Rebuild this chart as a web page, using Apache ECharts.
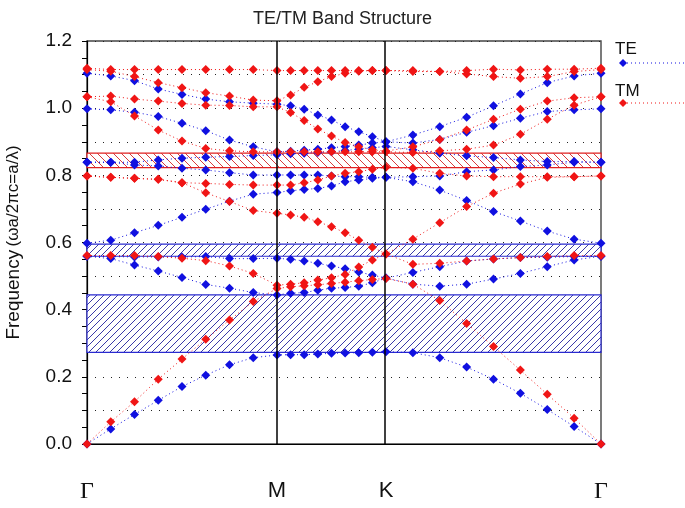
<!DOCTYPE html>
<html>
<head>
<meta charset="utf-8">
<script src="https://cdn.jsdelivr.net/npm/echarts@6/dist/echarts.min.js"></script>
<style>
html,body{margin:0;padding:0;background:#fff;}
#chart{width:685px;height:508px;}
</style>
</head>
<body>
<div id="chart"></div>
<script>
// k-path positions (normalised path length), 25 points: Γ(0) M(8) K(16) Γ(24)
var kx = [0, 0.0462, 0.0924, 0.1386, 0.1848, 0.2310, 0.2772, 0.3234, 0.3696,
          0.3961, 0.4226, 0.4491, 0.4757, 0.5022, 0.5287, 0.5552, 0.5817,
          0.6340, 0.6863, 0.7386, 0.7909, 0.8431, 0.8954, 0.9477, 1.0];
var kLabels = ['\u0393', 'M', 'K', '\u0393'];
var kLabelPos = [0, 0.3696, 0.5817, 1.0];

// TE bands (blue)
var te1 = [0, 0.045, 0.088, 0.130, 0.171, 0.205, 0.236, 0.257, 0.265, 0.266, 0.266, 0.268, 0.270, 0.271, 0.272, 0.273, 0.275, 0.272, 0.257, 0.229, 0.193, 0.151, 0.103, 0.052, 0];
var te2 = [0.559, 0.552, 0.533, 0.515, 0.496, 0.475, 0.464, 0.451, 0.444, 0.449, 0.451, 0.458, 0.464, 0.466, 0.470, 0.480, 0.494, 0.476, 0.470, 0.476, 0.491, 0.508, 0.528, 0.548, 0.559];
var te3 = [0.559, 0.558, 0.557, 0.557, 0.557, 0.558, 0.552, 0.552, 0.553, 0.550, 0.545, 0.538, 0.530, 0.522, 0.512, 0.503, 0.494, 0.511, 0.528, 0.545, 0.551, 0.555, 0.556, 0.558, 0.559];
var te4 = [0.598, 0.607, 0.629, 0.651, 0.675, 0.699, 0.723, 0.744, 0.749, 0.754, 0.758, 0.761, 0.768, 0.781, 0.786, 0.791, 0.794, 0.781, 0.756, 0.725, 0.692, 0.664, 0.634, 0.610, 0.598];
var te5 = [0.839, 0.839, 0.831, 0.828, 0.821, 0.816, 0.808, 0.801, 0.801, 0.801, 0.801, 0.801, 0.798, 0.796, 0.796, 0.794, 0.794, 0.796, 0.798, 0.811, 0.816, 0.826, 0.831, 0.839, 0.839];
var te6 = [0.839, 0.839, 0.839, 0.846, 0.851, 0.854, 0.856, 0.859, 0.861, 0.864, 0.866, 0.868, 0.870, 0.874, 0.878, 0.882, 0.886, 0.876, 0.866, 0.858, 0.853, 0.846, 0.841, 0.841, 0.839];
var te7 = [0.998, 0.995, 0.988, 0.975, 0.955, 0.933, 0.905, 0.885, 0.870, 0.872, 0.875, 0.878, 0.882, 0.886, 0.890, 0.896, 0.900, 0.896, 0.907, 0.928, 0.948, 0.970, 0.990, 0.995, 0.998];
var te8 = [1.104, 1.096, 1.082, 1.057, 1.041, 1.027, 1.019, 1.015, 1.012, 1.007, 0.997, 0.980, 0.965, 0.945, 0.930, 0.915, 0.900, 0.920, 0.945, 0.973, 1.007, 1.042, 1.076, 1.096, 1.104];

// TM bands (red)
var tm1 = [0, 0.066, 0.126, 0.193, 0.253, 0.312, 0.369, 0.424, 0.463, 0.468, 0.471, 0.474, 0.478, 0.482, 0.486, 0.490, 0.493, 0.476, 0.427, 0.359, 0.290, 0.220, 0.148, 0.077, 0];
var tm2 = [0.561, 0.561, 0.561, 0.558, 0.553, 0.546, 0.530, 0.508, 0.473, 0.476, 0.480, 0.488, 0.495, 0.505, 0.527, 0.548, 0.566, 0.535, 0.538, 0.545, 0.551, 0.555, 0.558, 0.561, 0.561];
var tm3 = [0.798, 0.794, 0.791, 0.788, 0.778, 0.748, 0.722, 0.695, 0.687, 0.682, 0.675, 0.662, 0.647, 0.629, 0.607, 0.586, 0.566, 0.610, 0.659, 0.707, 0.747, 0.774, 0.794, 0.796, 0.798];
var tm4 = [0.798, 0.794, 0.791, 0.788, 0.778, 0.776, 0.773, 0.771, 0.771, 0.771, 0.778, 0.786, 0.798, 0.806, 0.811, 0.818, 0.824, 0.821, 0.806, 0.798, 0.796, 0.796, 0.796, 0.796, 0.798];
var tm5 = [1.034, 1.019, 0.977, 0.935, 0.902, 0.880, 0.873, 0.870, 0.870, 0.870, 0.870, 0.870, 0.870, 0.870, 0.870, 0.870, 0.870, 0.868, 0.873, 0.878, 0.890, 0.922, 0.967, 1.009, 1.034];
var tm6 = [1.034, 1.036, 1.027, 1.021, 1.014, 1.009, 1.008, 1.004, 1.004, 0.987, 0.963, 0.938, 0.917, 0.898, 0.885, 0.876, 0.872, 0.885, 0.907, 0.935, 0.967, 0.997, 1.021, 1.031, 1.034];
var tm7 = [1.115, 1.110, 1.094, 1.076, 1.061, 1.046, 1.036, 1.024, 1.022, 1.039, 1.062, 1.079, 1.094, 1.104, 1.110, 1.112, 1.112, 1.109, 1.109, 1.102, 1.094, 1.089, 1.094, 1.109, 1.115];
var tm8 = [1.119, 1.115, 1.115, 1.115, 1.115, 1.115, 1.115, 1.115, 1.112, 1.112, 1.112, 1.112, 1.112, 1.112, 1.112, 1.112, 1.112, 1.112, 1.109, 1.112, 1.116, 1.114, 1.116, 1.116, 1.119];

// band gaps [low, high]
var teGaps = [[0.273, 0.444], [0.559, 0.595]];
var tmGaps = [[0.823, 0.866]];

var teBands = [te1, te2, te3, te4, te5, te6, te7, te8];
var tmBands = [tm1, tm2, tm3, tm4, tm5, tm6, tm7, tm8];

var BLUE = '#1010e0', RED = '#f01515';
var SANS = 'Liberation Sans, Arial, sans-serif';

function hatch(color, dir, size) {
  var c = document.createElement('canvas');
  c.width = size; c.height = size;
  var g = c.getContext('2d');
  g.fillStyle = '#ffffff'; g.fillRect(0, 0, size, size);
  g.strokeStyle = color; g.lineWidth = 1;
  g.beginPath();
  if (dir > 0) {
    g.moveTo(0, size); g.lineTo(size, 0);
    g.moveTo(-size, size); g.lineTo(size, -size);
    g.moveTo(0, 2 * size); g.lineTo(2 * size, 0);
  } else {
    g.moveTo(0, 0); g.lineTo(size, size);
    g.moveTo(-size, 0); g.lineTo(size, 2 * size);
    g.moveTo(0, -size); g.lineTo(2 * size, size);
  }
  g.stroke();
  return c;
}
var blueHatch = hatch('#3a3aa8', 1, 7);
var redHatch = hatch('#d83a3a', -1, 8);

function pairs(arr) { return arr.map(function (v, i) { return [kx[i], v]; }); }

var series = [];
teBands.forEach(function (b) {
  series.push({
    name: 'TE', type: 'line', data: pairs(b),
    symbol: 'diamond', symbolSize: 9, showSymbol: true,
    itemStyle: { color: BLUE },
    lineStyle: { color: BLUE, width: 1, type: [1, 3] },
    z: 3, animation: false
  });
});
tmBands.forEach(function (b) {
  series.push({
    name: 'TM', type: 'line', data: pairs(b),
    symbol: 'diamond', symbolSize: 9, showSymbol: true,
    itemStyle: { color: RED },
    lineStyle: { color: RED, width: 1, type: [1, 3] },
    z: 4, animation: false
  });
});
// gaps and symmetry lines
series[0].markArea = {
  silent: true,
  data: teGaps.map(function (g) {
    return [{ yAxis: g[0], itemStyle: { color: { image: blueHatch, repeat: 'repeat' }, borderColor: '#2a2ad0', borderWidth: 1.2 } }, { yAxis: g[1] }];
  }).concat(tmGaps.map(function (g) {
    return [{ yAxis: g[0], itemStyle: { color: { image: redHatch, repeat: 'repeat' }, borderColor: '#e02020', borderWidth: 1.2 } }, { yAxis: g[1] }];
  }))
};
series[0].markLine = {
  silent: true, symbol: 'none', label: { show: false },
  lineStyle: { color: '#000', type: 'solid', width: 1.5 },
  data: [{ xAxis: kLabelPos[1] }, { xAxis: kLabelPos[2] }]
};

var chart = echarts.init(document.getElementById('chart'), null, { renderer: 'canvas' });
chart.setOption({
  animation: false,
  backgroundColor: '#fff',
  title: {
    text: 'TE/TM Band Structure', left: 'center', top: 5,
    textStyle: { fontFamily: SANS, fontSize: 18, fontWeight: 'normal', color: '#222' }
  },
  grid: { left: 87, right: 84, top: 41, bottom: 64, show: true, borderColor: '#444', borderWidth: 1.4,
          containLabel: false, outerBoundsMode: 'none' },
  xAxis: {
    type: 'value', min: 0, max: 1,
    axisLine: { show: true, lineStyle: { color: '#000', width: 1.2 } },
    axisTick: { show: false },
    splitLine: { show: false },
    axisLabel: {
      customValues: kLabelPos,
      formatter: function (v) {
        var i = kLabelPos.indexOf(v);
        if (i < 0) return '';
        return kLabels[i] === '\u0393' ? '{g|\u0393}' : '{s|' + kLabels[i] + '}';
      },
      margin: 36, color: '#111',
      rich: {
        g: { fontSize: 24, fontFamily: 'Liberation Serif, Times New Roman, serif', color: '#111' },
        s: { fontSize: 22, fontFamily: SANS, color: '#111' }
      }
    }
  },
  yAxis: {
    type: 'value', min: 0, max: 1.2, interval: 0.1,
    name: '{a|Frequency} {b|(\u03c9a/2\u03c0c=a/\u03bb)}',
    nameLocation: 'middle', nameGap: 64, nameRotate: 90,
    nameTextStyle: {
      rich: {
        a: { fontSize: 19, fontFamily: SANS, color: '#111' },
        b: { fontSize: 17, fontFamily: SANS, color: '#111' }
      }
    },
    axisLine: { show: true, lineStyle: { color: '#000', width: 1.2 } },
    axisTick: { show: true, inside: false, length: 5, lineStyle: { color: '#000' } },
    minorTick: { show: true, splitNumber: 2, length: 5, lineStyle: { color: '#000' } },
    axisLabel: {
      formatter: function (v) { var n = Math.round(v * 10); return n % 2 === 0 ? (n / 10).toFixed(1) : ''; },
      fontSize: 19, color: '#111', margin: 15, fontFamily: SANS
    },
    splitLine: { show: true, lineStyle: { color: '#222', width: 1, type: [1, 7] } }
  },
  graphic: [
    { type: 'text', x: 615, y: 41, style: { text: 'TE', fontSize: 17, fontFamily: SANS, fill: '#111' } },
    { type: 'line', shape: { x1: 623, y1: 63, x2: 685, y2: 63 }, style: { stroke: BLUE, lineWidth: 1, lineDash: [1, 3] } },
    { type: 'polygon', shape: { points: [[623, 59], [627, 63], [623, 67], [619, 63]] }, style: { fill: BLUE } },
    { type: 'text', x: 615, y: 83, style: { text: 'TM', fontSize: 17, fontFamily: SANS, fill: '#111' } },
    { type: 'line', shape: { x1: 623, y1: 103, x2: 685, y2: 103 }, style: { stroke: RED, lineWidth: 1, lineDash: [1, 3] } },
    { type: 'polygon', shape: { points: [[623, 99], [627, 103], [623, 107], [619, 103]] }, style: { fill: RED } }
  ],
  series: series
});
</script>
</body>
</html>
